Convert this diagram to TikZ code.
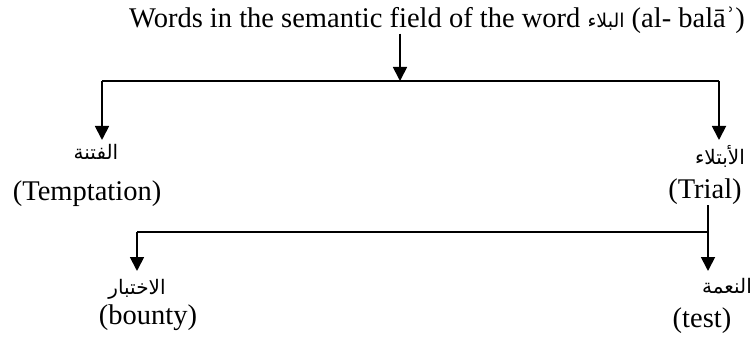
\documentclass[tikz,border=0pt]{standalone}
\usepackage{fontspec}
\setmainfont{Liberation Serif}
\newfontfamily\arabicfont[Script=Arabic]{DejaVu Sans}
\TeXXeTstate=1
\usetikzlibrary{arrows.meta,calc}
\begin{document}
\begin{tikzpicture}[x=1pt,y=-1pt,
  line/.style={line width=1.8pt},
  arr/.style={line width=1.8pt,-{Triangle[width=14pt,length=14pt]}},
  ar/.style={font=\arabicfont\fontsize{20}{22}\selectfont,inner sep=0pt},
  en/.style={font=\fontsize{28.5}{30}\selectfont,inner sep=0pt}]
\useasboundingbox (0,0) rectangle (755,339);
\node[font=\fontsize{28.5}{30}\selectfont,inner sep=0pt] (title) at (437,20)
  {Words in the semantic field of the word {\arabicfont\fontsize{19}{20}\selectfont\beginR البلاء\endR} (al- balāʾ)};
\node[ar] (fitna) at (96,152) {\beginR الفتنة\endR};
\node[en] (temp) at (87,194) {(Temptation)};
\node[ar] (ibtila) at (720,156) {\beginR الأبتلاء\endR};
\node[en] (trial) at (705,192) {(Trial)};
\node[ar] (ikhtibar) at (137,289) {\beginR الاختبار\endR};
\node[en] (bounty) at (148,318) {(bounty)};
\node[ar] (nima) at (727,286) {\beginR النعمة\endR};
\node[en] (test) at (702,321) {(test)};
\coordinate (top) at (400,81);
\coordinate (L1) at (102,81);
\coordinate (R1) at (719,81);
\coordinate (L1t) at (102,140);
\coordinate (R1t) at (719,140);
\coordinate (mid) at (708,232);
\coordinate (L2) at (137,232);
\coordinate (L2t) at (137,271);
\coordinate (M2t) at (708,271);
\draw[arr] (title.south -| top) -- (top);
\draw[line] (L1) -- (R1);
\draw[arr] (L1) -- (L1t);
\draw[arr] (R1) -- (R1t);
\draw[line] (trial.south -| mid) -- (mid);
\draw[line] (mid) -- (L2);
\draw[arr] (mid) -- (M2t);
\draw[arr] (L2) -- (L2t);
\end{tikzpicture}
\end{document}
